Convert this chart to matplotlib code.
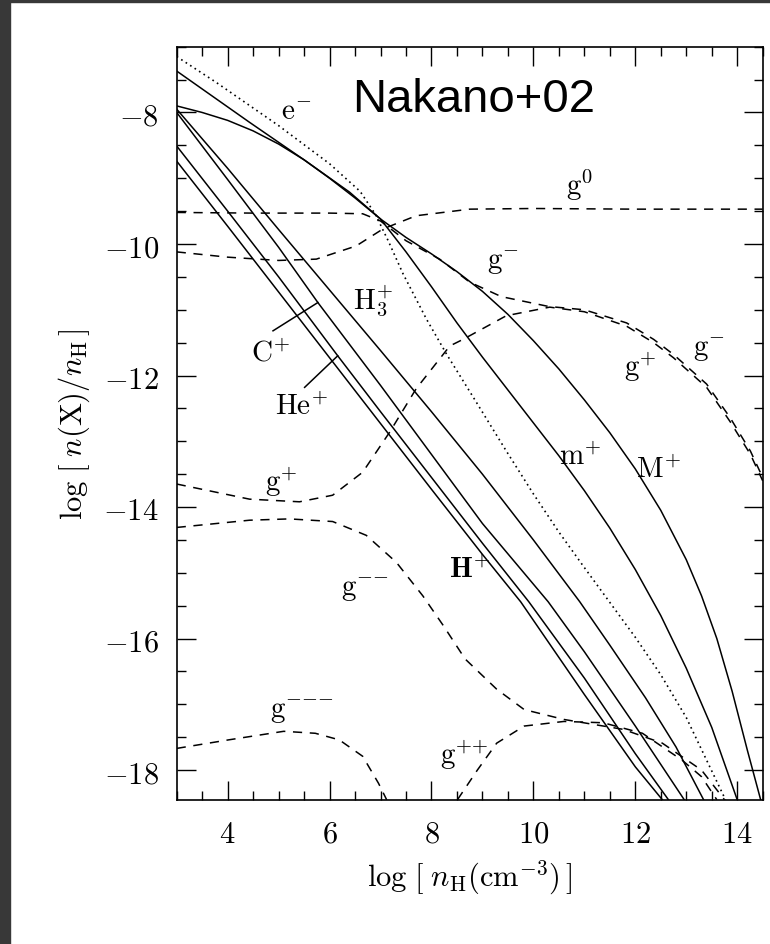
import matplotlib
matplotlib.use("Agg")
import matplotlib.pyplot as plt
from matplotlib.patches import Rectangle
from matplotlib.ticker import MultipleLocator

plt.rcParams['mathtext.fontset'] = 'cm'
plt.rcParams['font.family'] = ['DejaVu Serif']

# --- data: log n_H  vs  log n(X)/n_H ---
e_x = [3.0, 3.77, 5.0, 6.0, 6.6, 6.9, 7.15, 7.44, 7.9, 8.3, 8.82, 9.47, 10.0, 10.5, 11.0, 11.5, 12.0, 12.5, 13.0, 13.4, 13.77]
e_y = [-7.15, -7.54, -8.2, -8.78, -9.2, -9.55, -9.95, -10.45, -11.14, -11.68, -12.33, -13.15, -13.8, -14.38, -14.92, -15.45, -15.98, -16.55, -17.2, -17.85, -18.45]

mp_x = [3.0, 4.43, 5.5, 6.39, 7.0, 7.5, 8.0, 8.5, 9.0, 9.5, 10.0, 10.5, 11.0, 11.5, 12.0, 12.5, 13.0, 13.5, 14.0]
mp_y = [-7.37, -8.15, -8.72, -9.21, -9.62, -10.12, -10.65, -11.2, -11.72, -12.22, -12.72, -13.22, -13.75, -14.32, -14.95, -15.65, -16.45, -17.35, -18.45]

Mp_x = [3.0, 3.5, 4.0, 4.5, 5.0, 5.5, 6.0, 6.5, 7.0, 7.5, 8.0, 8.5, 9.0, 9.5, 10.0, 10.5, 11.0, 11.5, 12.0, 12.5, 13.0, 13.3, 13.6, 13.9, 14.2, 14.46]
Mp_y = [-7.9, -8.0, -8.12, -8.28, -8.48, -8.72, -9.0, -9.3, -9.62, -9.9, -10.15, -10.42, -10.72, -11.07, -11.47, -11.9, -12.37, -12.87, -13.42, -14.05, -14.8, -15.35, -16.0, -16.8, -17.7, -18.45]

H3_x = [3.0, 4.0, 5.0, 6.0, 7.0, 8.0, 9.0, 10.0, 10.91, 11.5, 12.2, 12.8, 13.34]
H3_y = [-7.95, -8.85, -9.78, -10.7, -11.62, -12.55, -13.5, -14.5, -15.44, -16.1, -16.9, -17.65, -18.45]

Cp_x = [3.0, 4.0, 5.0, 5.77, 7.0, 8.0, 9.0, 10.29, 11.0, 12.0, 12.96]
Cp_y = [-8.0, -9.02, -10.05, -10.89, -12.15, -13.2, -14.25, -15.44, -16.2, -17.33, -18.45]

Hep_x = [3.0, 4.0, 5.0, 6.16, 7.0, 8.0, 9.0, 9.91, 11.0, 12.0, 12.65]
Hep_y = [-8.51, -9.5, -10.5, -11.7, -12.55, -13.55, -14.55, -15.44, -16.6, -17.75, -18.45]

Hp_x = [3.0, 4.0, 5.0, 6.0, 7.0, 8.0, 9.0, 9.75, 11.0, 12.0, 12.53]
Hp_y = [-8.74, -9.73, -10.73, -11.73, -12.73, -13.73, -14.72, -15.44, -16.85, -17.95, -18.45]

g0_x = [3.0, 4.0, 5.0, 5.74, 6.52, 7.05, 7.7, 8.75, 10.0, 12.0, 14.5]
g0_y = [-10.12, -10.2, -10.25, -10.23, -10.03, -9.77, -9.57, -9.47, -9.46, -9.47, -9.47]

gm_x = [3.0, 4.5, 6.0, 6.65, 7.0, 7.5, 8.16, 8.75, 9.37, 10.3, 11.0, 11.83, 12.36, 12.75, 13.4, 13.86, 14.26, 14.5]
gm_y = [-9.52, -9.53, -9.53, -9.54, -9.65, -9.95, -10.23, -10.58, -10.8, -10.95, -11.0, -11.2, -11.45, -11.68, -12.13, -12.64, -13.15, -13.55]

gp_x = [3.0, 4.43, 5.41, 6.06, 6.65, 7.18, 7.7, 8.36, 8.62, 9.47, 10.32, 11.0, 11.83, 12.36, 12.75, 13.4, 13.86, 14.26, 14.5]
gp_y = [-13.65, -13.88, -13.92, -13.82, -13.47, -12.86, -12.2, -11.55, -11.45, -11.09, -10.96, -11.03, -11.25, -11.5, -11.73, -12.18, -12.7, -13.2, -13.6]

gmm_x = [3.0, 4.43, 5.21, 6.06, 6.72, 7.31, 7.83, 8.23, 8.66, 9.28, 9.82, 10.6, 11.76, 12.53, 13.3, 13.75]
gmm_y = [-14.31, -14.2, -14.18, -14.22, -14.43, -14.84, -15.35, -15.8, -16.31, -16.77, -17.08, -17.23, -17.38, -17.59, -18.0, -18.45]

gpp_x = [8.51, 8.9, 9.28, 9.82, 10.6, 11.37, 12.14, 12.92, 13.3, 13.6]
gpp_y = [-18.45, -18.0, -17.59, -17.33, -17.26, -17.28, -17.44, -17.85, -18.1, -18.45]

gmmm_x = [3.0, 4.02, 5.1, 5.72, 6.19, 6.65, 6.96, 7.12]
gmmm_y = [-17.67, -17.54, -17.41, -17.44, -17.54, -17.79, -18.2, -18.45]

# curve labels
lab_text = [r'$\mathrm{e}^{-}$', r'$\mathrm{g}^{0}$', r'$\mathrm{g}^{-}$', r'$\mathrm{H}_3^{+}$',
            r'$\mathrm{C}^{+}$', r'$\mathrm{He}^{+}$', r'$\mathrm{g}^{+}$', r'$\mathrm{g}^{-}$',
            r'$\mathrm{m}^{+}$', r'$\mathrm{M}^{+}$', r'$\mathrm{g}^{+}$', r'$\mathbf{H}^{+}$',
            r'$\mathrm{g}^{{-}{-}}$', r'$\mathrm{g}^{{-}{-}{-}}$', r'$\mathrm{g}^{{+}{+}}$']
lab_x = [5.34, 10.9, 9.4, 6.85, 4.85, 5.44, 12.1, 13.45, 10.91, 12.45, 5.06, 8.75, 6.7, 5.45, 8.65]
lab_y = [-7.97, -9.1, -10.28, -10.84, -11.65, -12.46, -11.85, -11.6, -13.22, -13.42, -13.6, -14.94, -15.25, -17.1, -17.75]

# pointer lines for C+ and He+
ptr_x = [[4.89, 5.77], [5.51, 6.16]]
ptr_y = [[-11.32, -10.89], [-12.18, -11.70]]

fig = plt.figure(figsize=(7.7, 9.45), dpi=100)
fig.patches.append(Rectangle((0, 0), 10 / 770, 1, transform=fig.transFigure, color='#383838', zorder=-5))
fig.patches.append(Rectangle((0, 1 - 3 / 945), 1, 3 / 945, transform=fig.transFigure, color='#383838', zorder=-5))

ax = fig.add_axes([0.2295, 0.1527, 0.761, 0.7968])

lw = 1.1
solid = dict(color='black', lw=lw)
dash = dict(color='black', lw=lw, dashes=(6, 5))

ax.plot(e_x, e_y, color='black', lw=1.2, ls=(0, (1, 2.2)))
for xs, ys in [(mp_x, mp_y), (Mp_x, Mp_y), (H3_x, H3_y), (Cp_x, Cp_y), (Hep_x, Hep_y), (Hp_x, Hp_y)]:
    ax.plot(xs, ys, **solid)
for xs, ys in [(g0_x, g0_y), (gm_x, gm_y), (gp_x, gp_y), (gmm_x, gmm_y), (gpp_x, gpp_y), (gmmm_x, gmmm_y)]:
    ax.plot(xs, ys, **dash)
for xs, ys in zip(ptr_x, ptr_y):
    ax.plot(xs, ys, **solid)

for t, x, y in zip(lab_text, lab_x, lab_y):
    ax.text(x, y, t, fontsize=21, ha='center', va='center')

ax.text(6.45, -7.98, 'Nakano+02', fontsize=34, family='Liberation Sans', ha='left', va='baseline')

ax.set_xlim(3, 14.5)
ax.set_ylim(-18.45, -7.0)
ax.xaxis.set_minor_locator(MultipleLocator(0.5))
ax.yaxis.set_minor_locator(MultipleLocator(0.5))
ax.set_xticks([4, 6, 8, 10, 12, 14])
ax.set_xticklabels([r'$%d$' % v for v in [4, 6, 8, 10, 12, 14]])
ax.set_yticks([-18, -16, -14, -12, -10, -8])
ax.set_yticklabels([r'$%d$' % v for v in [-18, -16, -14, -12, -10, -8]])
ax.tick_params(which='both', direction='in', top=True, right=True, labelsize=22, width=1.0)
ax.tick_params(which='major', length=14, pad=13)
ax.tick_params(which='minor', length=6.5)
for s in ax.spines.values():
    s.set_linewidth(1.2)

ax.set_xlabel(r'$\log\,[\;n_{\mathrm{H}}(\mathrm{cm}^{-3})\,]$', fontsize=22, labelpad=6)
ax.set_ylabel(r'$\log\,[\;n(\mathrm{X})/n_{\mathrm{H}}\,]$', fontsize=22, labelpad=8)

fig.savefig('out.png', dpi=100)
